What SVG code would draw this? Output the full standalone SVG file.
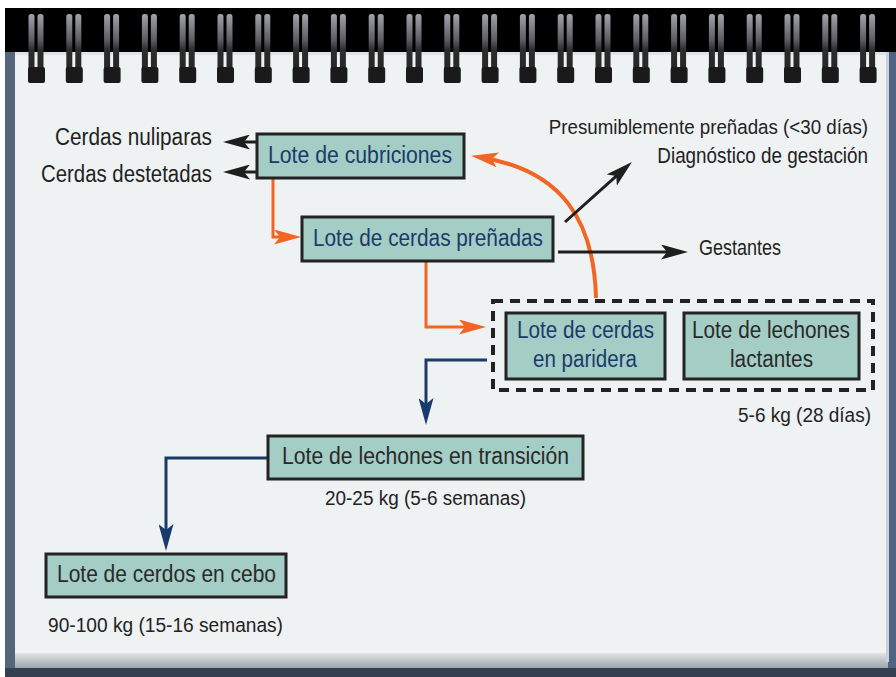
<svg xmlns="http://www.w3.org/2000/svg" xmlns:xlink="http://www.w3.org/1999/xlink" width="896" height="677" viewBox="0 0 896 677">
<style>
.box{fill:#a4cdc6;stroke:#232323;stroke-width:3}
.t{font-family:"Liberation Sans",Arial,sans-serif;font-size:23px}
.blue{fill:#1c3a6a}
.dark{fill:#2a2a2a}
.lbl{font-family:"Liberation Sans",Arial,sans-serif;font-size:20.5px;fill:#222}
.end{text-anchor:end}
.lk{fill:none;stroke:#1e1e1e;stroke-width:3}
.lo{fill:none;stroke:#f26522;stroke-width:3}
.lb{fill:none;stroke:#1a3a6b;stroke-width:3}
</style>
<defs>
<linearGradient id="barg" x1="0" y1="0" x2="0" y2="1">
<stop offset="0" stop-color="#a2a2aa"/>
<stop offset="0.45" stop-color="#5c5c62"/>
<stop offset="0.62" stop-color="#2c2c2c"/>
<stop offset="1" stop-color="#262626"/>
</linearGradient>
<linearGradient id="edge" x1="0" y1="0" x2="0" y2="1">
<stop offset="0" stop-color="#e0e4e4"/>
<stop offset="1" stop-color="#9ea5ab"/>
</linearGradient>
<g id="ring">
<rect x="-8" y="14" width="6" height="58" rx="2.5" fill="url(#barg)"/>
<rect x="1" y="14" width="6" height="58" rx="2.5" fill="url(#barg)"/>
<rect x="-8.5" y="67" width="17" height="16" rx="2" fill="#1a1a1a"/>
</g>
<marker id="ak" markerUnits="userSpaceOnUse" markerWidth="27" markerHeight="15" viewBox="0 0 27 15" refX="19" refY="7.5" orient="auto"><path d="M0,0 L27,7.5 L0,15 L6,7.5 Z" fill="#1e1e1e"/></marker>
<marker id="ao" markerUnits="userSpaceOnUse" markerWidth="27" markerHeight="15" viewBox="0 0 27 15" refX="19" refY="7.5" orient="auto"><path d="M0,0 L27,7.5 L0,15 L6,7.5 Z" fill="#f26522"/></marker>
<marker id="ab" markerUnits="userSpaceOnUse" markerWidth="27" markerHeight="15" viewBox="0 0 27 15" refX="19" refY="7.5" orient="auto"><path d="M0,0 L27,7.5 L0,15 L6,7.5 Z" fill="#1a3a6b"/></marker>
</defs>

<g id="background">
<rect x="0" y="0" width="896" height="677" fill="#ffffff"/>
<rect x="5" y="8" width="891" height="669" fill="#33404f"/>
<rect x="5" y="8" width="891" height="46" fill="#000000"/>
<rect x="5" y="52" width="10" height="616" fill="#56657a"/>
<rect x="888" y="52" width="8" height="616" fill="#4f6482"/>
<rect x="15" y="52" width="873" height="610" fill="#eff2f2"/>
<rect x="15" y="653" width="873" height="15" fill="url(#edge)"/>
<rect x="15" y="52" width="873" height="3" fill="#dfe3e6"/>
<rect x="886" y="52" width="3" height="610" fill="#c9d0d8"/>
</g>

<g id="rings">
<use xlink:href="#ring" x="36.5"/><use xlink:href="#ring" x="74.3"/><use xlink:href="#ring" x="112.1"/><use xlink:href="#ring" x="149.9"/><use xlink:href="#ring" x="187.7"/><use xlink:href="#ring" x="225.5"/><use xlink:href="#ring" x="263.3"/><use xlink:href="#ring" x="301.1"/><use xlink:href="#ring" x="338.9"/><use xlink:href="#ring" x="376.7"/><use xlink:href="#ring" x="414.5"/><use xlink:href="#ring" x="452.3"/><use xlink:href="#ring" x="490.1"/><use xlink:href="#ring" x="527.9"/><use xlink:href="#ring" x="565.7"/><use xlink:href="#ring" x="603.5"/><use xlink:href="#ring" x="641.3"/><use xlink:href="#ring" x="679.1"/><use xlink:href="#ring" x="716.9"/><use xlink:href="#ring" x="754.7"/><use xlink:href="#ring" x="792.5"/><use xlink:href="#ring" x="830.3"/><use xlink:href="#ring" x="868.1"/>
</g>

<g id="connectors">
<path class="lk" d="M257,142 L231,142" marker-end="url(#ak)"/>
<path class="lk" d="M257,172 L231,172" marker-end="url(#ak)"/>
<path class="lo" d="M273,178 L273,237 L293,237" marker-end="url(#ao)"/>
<path class="lo" d="M426,261 L426,327 L478,327" marker-end="url(#ao)"/>
<path class="lo" style="stroke-width:4" d="M596,298 C594,220 562,170 479,157" marker-end="url(#ao)"/>
<path class="lk" d="M565,222 L626,167.3" marker-end="url(#ak)"/>
<path class="lk" d="M558,252 L680,252" marker-end="url(#ak)"/>
<path class="lb" d="M487,360 L426,360 L426,417" marker-end="url(#ab)"/>
<path class="lb" d="M268,458 L166,458 L166,543" marker-end="url(#ab)"/>
</g>

<g id="node-cubriciones">
<rect class="box" x="257" y="134" width="207" height="44"/>
<text class="t blue" x="268" y="163" textLength="184" lengthAdjust="spacingAndGlyphs">Lote de cubriciones</text>
</g>
<g id="node-prenadas">
<rect class="box" x="302" y="217" width="251" height="44"/>
<text class="t blue" x="313" y="246" textLength="230" lengthAdjust="spacingAndGlyphs">Lote de cerdas preñadas</text>
</g>
<g id="group-paridera">
<rect x="493" y="301" width="380" height="89" fill="none" stroke="#222" stroke-width="4" stroke-dasharray="10 7"/>
</g>
<g id="node-paridera">
<rect class="box" x="506" y="313" width="159" height="66"/>
<text class="t blue" x="517" y="338" textLength="137" lengthAdjust="spacingAndGlyphs">Lote de cerdas</text>
<text class="t blue" x="533" y="367" textLength="104" lengthAdjust="spacingAndGlyphs">en paridera</text>
</g>
<g id="node-lactantes">
<rect class="box" x="684" y="313" width="175" height="66"/>
<text class="t dark" x="692" y="338" textLength="158" lengthAdjust="spacingAndGlyphs">Lote de lechones</text>
<text class="t dark" x="730" y="367" textLength="83" lengthAdjust="spacingAndGlyphs">lactantes</text>
</g>
<g id="node-transicion">
<rect class="box" x="268" y="436" width="315" height="43"/>
<text class="t dark" x="282" y="464" textLength="287" lengthAdjust="spacingAndGlyphs">Lote de lechones en transición</text>
</g>
<g id="node-cebo">
<rect class="box" x="46" y="554" width="240" height="43"/>
<text class="t dark" x="57" y="582" textLength="219" lengthAdjust="spacingAndGlyphs">Lote de cerdos en cebo</text>
</g>

<g id="labels">
<text class="lbl" style="font-size:23px" x="55" y="145" textLength="157" lengthAdjust="spacingAndGlyphs">Cerdas nuliparas</text>
<text class="lbl" style="font-size:23px" x="41" y="182" textLength="171" lengthAdjust="spacingAndGlyphs">Cerdas destetadas</text>
<text class="lbl end" transform="translate(868,134) scale(0.915,1)" x="0" y="0">Presumiblemente preñadas (&lt;30 días)</text>
<text class="lbl end" style="font-size:21.5px" transform="translate(868,163) scale(0.877,1)" x="0" y="0">Diagnóstico de gestación</text>
<text class="lbl" style="font-size:21.5px" x="699" y="255" textLength="82" lengthAdjust="spacingAndGlyphs">Gestantes</text>
<text class="lbl end" x="871" y="422" textLength="133" lengthAdjust="spacingAndGlyphs">5-6 kg (28 días)</text>
<text class="lbl" x="325" y="505" textLength="201" lengthAdjust="spacingAndGlyphs">20-25 kg (5-6 semanas)</text>
<text class="lbl" x="48" y="632" textLength="235" lengthAdjust="spacingAndGlyphs">90-100 kg (15-16 semanas)</text>
</g>
</svg>
